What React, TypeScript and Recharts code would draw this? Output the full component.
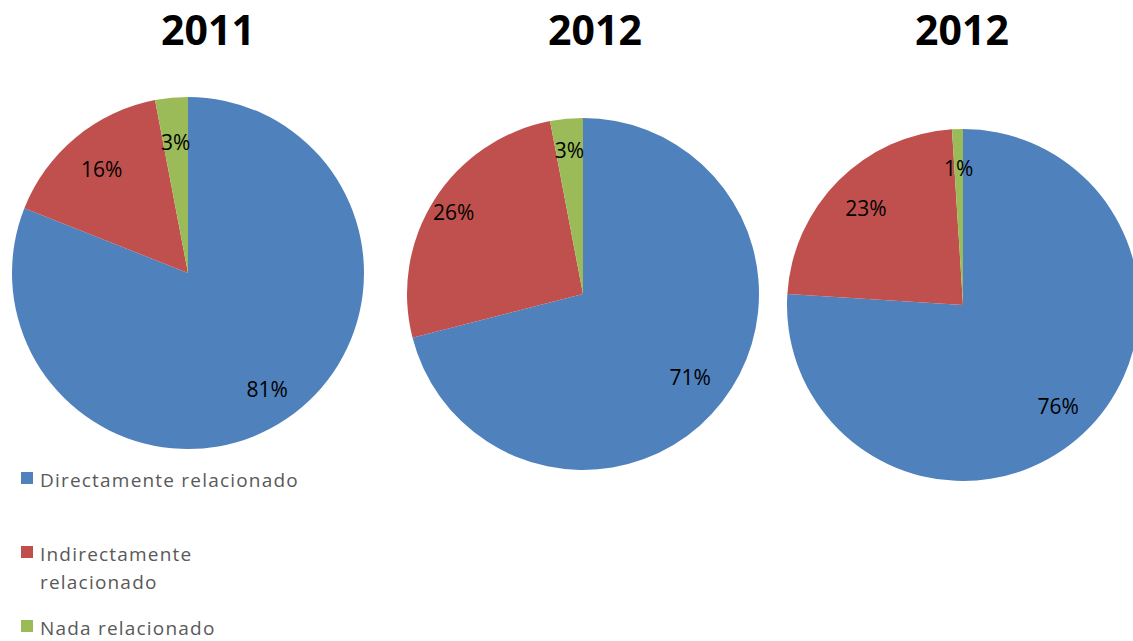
import React from 'react';
import { PieChart, Pie, Cell, Legend } from 'recharts';

const categories = ['Directamente relacionado', 'Indirectamente relacionado', 'Nada relacionado'];
const colors = ['#4F81BD', '#C0504D', '#9BBB59'];
const titles = ['2011', '2012', '2012'];
const values2011 = [81, 16, 3];
const values2012a = [71, 26, 3];
const values2012b = [76, 23, 1];

const seriesList = [values2011, values2012a, values2012b];

// layout (styling, not data)
const pieCenters = [
  { cx: 188, cy: 273 },
  { cx: 583, cy: 294 },
  { cx: 963, cy: 305 },
];
const labelRadiusFactors = [
  [0.8, 0.77, 0.75],
  [0.77, 0.87, 0.82],
  [0.79, 0.78, 0.78],
];
const titleCenters = [208, 595, 962];
const RADIUS = 176;
const legendGaps = [0, 46, 18];
const FONT = '"Open Sans", sans-serif';

const RAD = Math.PI / 180;

const makeLabel = (pi: number) => (props: any) => {
  const { cx, cy, midAngle, outerRadius, index } = props;
  const value = props.value ?? props.payload?.value;
  const r = outerRadius * (labelRadiusFactors[pi][index] ?? 0.78);
  const x = cx + r * Math.cos(-midAngle * RAD);
  const y = cy + r * Math.sin(-midAngle * RAD);
  return (
    <text
      x={x}
      y={y}
      fill="#000"
      textAnchor="middle"
      dominantBaseline="central"
      fontSize={21}
      fontFamily={FONT}
    >
      {`${value}%`}
    </text>
  );
};

const renderLegend = () => (
  <div>
    {categories.map((c, i) => (
      <div
        key={c}
        style={{ display: 'flex', alignItems: 'flex-start', marginTop: legendGaps[i] }}
      >
        <div
          style={{ width: 12, height: 12, background: colors[i], marginTop: 6, flex: 'none' }}
        />
        <div
          style={{
            marginLeft: 7,
            width: 265,
            fontFamily: FONT,
            fontSize: 19,
            letterSpacing: 1.2,
            lineHeight: '28px',
            color: '#595959',
          }}
        >
          {c}
        </div>
      </div>
    ))}
  </div>
);

export default function App() {
  return (
    <div
      style={{
        position: 'absolute',
        left: 0,
        top: 0,
        width: 1133,
        height: 641,
        background: '#fff',
        overflow: 'hidden',
      }}
    >
      {titles.map((t, i) => (
        <div
          key={i}
          style={{
            position: 'absolute',
            left: titleCenters[i] - 100,
            top: 9,
            width: 200,
            textAlign: 'center',
            fontFamily: FONT,
            fontWeight: 700,
            fontSize: 41,
            lineHeight: 1,
            color: '#000',
          }}
        >
          {t}
        </div>
      ))}
      <div style={{ position: 'absolute', left: 0, top: 0 }}>
        <PieChart width={1133} height={641} margin={{ top: 0, right: 0, bottom: 0, left: 0 }}>
          {seriesList.map((vals, pi) => (
            <Pie
              key={pi}
              data={vals.map((v, i) => ({ name: categories[i], value: v }))}
              dataKey="value"
              nameKey="name"
              cx={pieCenters[pi].cx}
              cy={pieCenters[pi].cy}
              outerRadius={RADIUS}
              innerRadius={0}
              startAngle={90}
              endAngle={-270}
              stroke="none"
              label={makeLabel(pi)}
              labelLine={false}
              isAnimationActive={false}
            >
              {vals.map((_, i) => (
                <Cell key={i} fill={colors[i]} stroke="none" />
              ))}
            </Pie>
          ))}
          <Legend
            layout="vertical"
            align="center"
            verticalAlign="middle"
            content={renderLegend}
            wrapperStyle={{ left: 21, top: 466, width: 300 }}
          />
        </PieChart>
      </div>
    </div>
  );
}
